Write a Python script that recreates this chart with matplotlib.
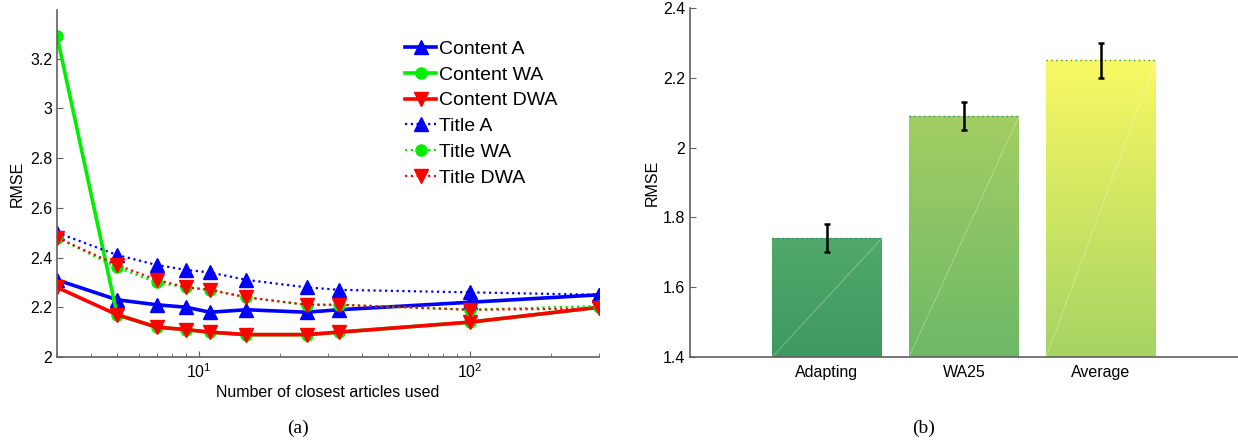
"""RMSE vs. neighbourhood size (a) and method comparison bars (b)."""

import matplotlib

matplotlib.use("Agg")
import matplotlib.pyplot as plt
import numpy as np
from matplotlib.ticker import FormatStrFormatter

plt.rcParams["font.family"] = ["Liberation Sans", "DejaVu Sans"]
plt.rcParams["mathtext.default"] = "regular"

# --- data ---
n_articles = [3, 5, 7, 9, 11, 15, 25, 33, 100, 300]
content_a = [2.31, 2.23, 2.21, 2.20, 2.18, 2.19, 2.18, 2.19, 2.22, 2.25]
content_wa = [3.29, 2.17, 2.12, 2.11, 2.10, 2.09, 2.09, 2.10, 2.14, 2.20]
content_dwa = [2.28, 2.17, 2.12, 2.11, 2.10, 2.09, 2.09, 2.10, 2.14, 2.20]
title_a = [2.50, 2.41, 2.37, 2.35, 2.34, 2.31, 2.28, 2.27, 2.26, 2.25]
title_wa = [2.48, 2.36, 2.30, 2.28, 2.27, 2.24, 2.21, 2.21, 2.19, 2.205]
title_dwa = [2.48, 2.37, 2.31, 2.28, 2.27, 2.24, 2.21, 2.21, 2.19, 2.195]

methods = ["Adapting", "WA25", "Average"]
method_rmse = [1.74, 2.09, 2.25]
method_err = [0.04, 0.04, 0.05]

# gradient colours per bar (top, bottom)
bar_top = ["#50a96a", "#a3ce63", "#f9f963"]
bar_bottom = ["#3e9961", "#6db867", "#a6d364"]

W, H = 1238, 442
fig = plt.figure(figsize=(W / 100, H / 100), dpi=100)

AXIS_GRAY = "#606060"
FS = 11.5


def _style(ax):
    for side in ("top", "right"):
        ax.spines[side].set_visible(False)
    for side in ("left", "bottom"):
        ax.spines[side].set_color(AXIS_GRAY)
        ax.spines[side].set_linewidth(1.2)
    ax.tick_params(which="both", direction="in", color=AXIS_GRAY, labelsize=FS)
    ax.tick_params(which="major", length=4)
    ax.tick_params(which="minor", length=3)


# --- (a) line plot ---
ax1 = fig.add_axes([57 / W, 1 - 357 / H, 542 / W, 347 / H])
_style(ax1)
solid = dict(linestyle="-", linewidth=2.6)
dotted = dict(linestyle=(0, (1, 1.6)), linewidth=1.6)
ax1.plot(n_articles, content_a, color="#0000ff", marker="^", markersize=10,
         label="Content A", **solid)
ax1.plot(n_articles, content_wa, color="#00ee00", marker="o", markersize=8,
         label="Content WA", **solid)
ax1.plot(n_articles, content_dwa, color="#ff0000", marker="v", markersize=10,
         label="Content DWA", **solid)
ax1.plot(n_articles, title_a, color="#0000ff", marker="^", markersize=10,
         label="Title A", **dotted)
ax1.plot(n_articles, title_wa, color="#00ee00", marker="o", markersize=8,
         label="Title WA", **dotted)
ax1.plot(n_articles, title_dwa, color="#ff0000", marker="v", markersize=10,
         label="Title DWA", **dotted)
ax1.set_xscale("log")
ax1.set_xlim(3, 300)
ax1.set_ylim(2, 3.395)
ax1.set_yticks(np.arange(2, 3.21, 0.2))
ax1.yaxis.set_major_formatter(FormatStrFormatter("%g"))
ax1.set_xlabel("Number of closest articles used", fontsize=FS, labelpad=3)
ax1.set_ylabel("RMSE", fontsize=FS, labelpad=4)
ax1.legend(loc="upper left", bbox_to_anchor=(0.628, 0.935), frameon=False,
           fontsize=14, handlelength=1.6, handletextpad=0.15,
           labelspacing=0.42, borderaxespad=0)

# --- (b) bar plot ---
ax2 = fig.add_axes([690 / W, 1 - 357 / H, 548 / W, 349 / H])
_style(ax2)
xpos = np.arange(1, len(methods) + 1)
width = 0.8
base = 1.4
bars = ax2.bar(xpos, np.array(method_rmse) - base, width, bottom=base,
               color="none", edgecolor="none", zorder=1)
for rect, top_c, bot_c in zip(bars, bar_top, bar_bottom):
    x0 = rect.get_x()
    x1 = x0 + rect.get_width()
    y1 = rect.get_y() + rect.get_height()
    c_top = np.array(matplotlib.colors.to_rgb(top_c))
    c_bot = np.array(matplotlib.colors.to_rgb(bot_c))
    t = np.linspace(0, 1, 256)[:, None]
    grad = (c_top * (1 - t) + c_bot * t)[:, None, :]
    im = ax2.imshow(grad, extent=(x0, x1, base, y1), aspect="auto",
                    origin="upper", zorder=1)
    im.set_clip_path(rect)
    ax2.plot([x0, x1], [base, y1], color="white", alpha=0.35, lw=0.6, zorder=2)
    ax2.hlines(y1, x0, x1, colors="#2a8c8c", linestyles=(0, (1, 2.5)),
               lw=1.0, zorder=2)
ax2.errorbar(xpos, method_rmse, yerr=method_err, fmt="none", ecolor="black",
             elinewidth=1.8, capsize=2.5, capthick=1.8, zorder=3)
ax2.set_xlim(0, 4)
ax2.set_ylim(1.4, 2.4)
ax2.set_yticks(np.arange(1.4, 2.41, 0.2))
ax2.yaxis.set_major_formatter(FormatStrFormatter("%g"))
ax2.set_xticks(xpos)
ax2.set_xticklabels(methods)
ax2.tick_params(axis="x", length=0, pad=6)
ax2.set_ylabel("RMSE", fontsize=FS, labelpad=2)

fig.text(298 / W, 1 - 428 / H, "(a)", ha="center", va="center",
         fontsize=14, family="Liberation Serif")
fig.text(924 / W, 1 - 428 / H, "(b)", ha="center", va="center",
         fontsize=14, family="Liberation Serif")

fig.savefig("out.png", dpi=100)
